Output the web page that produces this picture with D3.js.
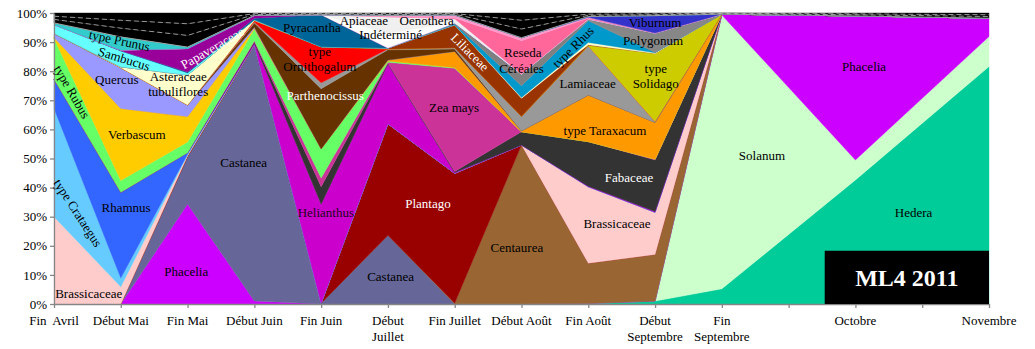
<!DOCTYPE html>
<html>
<head>
<meta charset="utf-8">
<script src="https://cdn.jsdelivr.net/npm/d3@7"></script>
<style>
body { margin: 0; background: #fff; }
text { font-family: "Liberation Serif", "Times New Roman", serif; }
</style>
</head>
<body>
<svg id="chart" width="1035" height="349"></svg>
<script>
// periods sampled, and the slot each one sits on along the x axis (15 slots, 2 unlabeled)
const periods = ["Fin Avril", "Début Mai", "Fin Mai", "Début Juin", "Fin Juin", "Début Juillet",
    "Fin Juillet", "Début Août", "Fin Août", "Début Septembre", "Fin Septembre", "Octobre", "Novembre"];
const periodSlots = [0, 1, 2, 3, 4, 5, 6, 7, 8, 9, 10, 12, 14];
const tickLabels = [["Fin  Avril"], ["Début Mai"], ["Fin Mai"], ["Début Juin"], ["Fin Juin"],
    ["Début", "Juillet"], ["Fin Juillet"], ["Début Août"], ["Fin Août"], ["Début", "Septembre"],
    ["Fin", "Septembre"], [""], ["Octobre"], [""], ["Novembre"]];
const yTicks = [0, 10, 20, 30, 40, 50, 60, 70, 80, 90, 100];

// pollen shares (%), bottom of the stack first
const hedera        = [0, 0, 0, 0, 0, 0, 0, 0, 0.2, 1, 5.2, 42.6, 81.6];
const solanum       = [0, 0, 0, 0, 0, 0, 0, 0, 0, 0, 94.1, 6.9, 10.3];
const phacelia      = [0, 0, 34.4, 1, 0, 0, 0, 0, 0, 0, 0.3, 49.5, 6.3];
const castanea      = [0, 0, 16.2, 87.5, 0.3, 23.7, 0, 0, 0, 0, 0, 0, 0];
const centaurea     = [0, 0, 0, 0, 0, 0, 0.3, 54.6, 13.8, 16, 0, 0, 0];
const plantago      = [0, 0, 0.3, 0.2, 0, 38.4, 44.6, 0, 0, 0, 0, 0, 0];
const brassicaceae  = [30, 5.9, 0.3, 0, 0, 0, 0, 0, 26.3, 14.5, 0, 0, 0];
const crataegus     = [37.2, 3, 0.3, 0, 0, 0, 0, 0, 0, 0, 0, 0, 0];
const rhamnus       = [10.1, 29.5, 0.5, 0, 0, 0, 0, 0, 0, 0, 0, 0, 0];
const helianthus    = [0, 0, 0, 0.5, 34, 20.6, 0.3, 0, 0.2, 0.3, 0, 0, 0];
const fabaceae      = [0, 0, 0, 0.5, 6, 0.3, 0.3, 4.6, 15.3, 17.7, 0, 0, 0];
const zeaMays       = [0, 0, 0, 0.3, 3, 0.3, 35.5, 0, 0, 0.3, 0, 0, 0];
const rubus         = [14, 4, 3.7, 4, 10, 0.5, 0.3, 0, 0, 0, 0, 0, 0];
const verbascum     = [0.3, 24.8, 8.7, 0.3, 0, 0, 0, 0, 0, 0, 0, 0, 0];
const taraxacum     = [0, 0, 0, 0, 0, 0.3, 5.5, 0.3, 16, 12.6, 0, 0, 0];
const quercus       = [1.4, 14, 4, 0.3, 0, 0, 0, 0, 0, 0, 0, 0, 0];
const parthenocissus = [0, 0, 0, 1.5, 20.7, 3.5, 0.8, 0, 0, 0, 0, 0, 0];
const lamiaceae     = [0, 0, 0, 0.3, 2, 0.3, 0.5, 5, 16.9, 0.3, 0, 0, 0];
const ornithogalum  = [0, 0, 0, 0.5, 12.4, 0, 0, 0, 0, 0, 0, 0, 0];
const solidago      = [0, 0, 0, 0, 0, 0, 0, 0, 0.2, 23.4, 0, 0, 0];
const liliaceae     = [0, 0, 0, 0, 0, 0.3, 7.8, 6.2, 0.2, 0, 0, 0, 0];
const asteraceae    = [0, 0.3, 10.3, 0.3, 0, 0, 0, 0.3, 0.8, 0.2, 0, 0, 0];
const rhus          = [0, 0, 0, 0, 0, 0, 0.3, 4, 7.4, 0.2, 0, 0, 0];
const cereales      = [0, 0, 0, 0, 0, 0, 0.3, 4, 0.3, 0, 0, 0, 0];
const polygonum     = [0, 0, 0, 0, 0, 0, 0, 0, 0.3, 6.6, 0, 0, 0];
const sambucus      = [3.0, 5.5, 0.7, 0, 0, 0, 0, 0, 0, 0, 0, 0, 0];
const pyracantha    = [0, 0, 0.3, 0.5, 11, 0, 0, 0, 0, 0, 0, 0, 0];
const papaveraceae  = [0, 0.3, 8.1, 1, 0, 0, 0, 0, 0, 0, 0, 0, 0];
const indetermine   = [0, 0, 0, 0, 0, 5.1, 0.3, 0, 0, 0, 0, 0, 0];
const apiaceae      = [0, 0, 0, 0, 0, 5.7, 1.2, 0, 0, 0, 0, 0, 0];
const reseda        = [0, 0, 0, 0, 0, 0, 0.3, 11.5, 0.3, 0, 0, 0, 0];
const oenothera     = [0, 0, 0, 0, 0, 0.5, 1, 1, 0.3, 0, 0, 0, 0];
const viburnum      = [0, 0, 0, 0, 0, 0, 0, 0, 0.3, 6, 0, 0, 0];
const prunus        = [0.6, 4.5, 0.5, 0, 0, 0, 0, 0, 0, 0, 0, 0, 0];
const autres1       = [1.2, 3, 4, 0.3, 0.2, 0.3, 0.3, 3, 0.4, 0.3, 0.2, 0.4, 0.6];
const autres2       = [1.1, 2.7, 4, 0.3, 0.2, 0.3, 0.2, 3, 0.4, 0.3, 0.1, 0.3, 0.6];
const autres3       = [1.1, 2.5, 3.7, 0.2, 0.2, 0.2, 0.2, 2.5, 0.4, 0.3, 0.1, 0.3, 0.6];

const series = [
    ["Hedera", hedera], ["Solanum", solanum], ["Phacelia", phacelia], ["Castanea", castanea],
    ["Centaurea", centaurea], ["Plantago", plantago], ["Brassicaceae", brassicaceae],
    ["type Crataegus", crataegus], ["Rhamnus", rhamnus], ["Helianthus", helianthus],
    ["Fabaceae", fabaceae], ["Zea mays", zeaMays], ["type Rubus", rubus], ["Verbascum", verbascum],
    ["type Taraxacum", taraxacum], ["Quercus", quercus], ["Parthenocissus", parthenocissus],
    ["Lamiaceae", lamiaceae], ["type Ornithogalum", ornithogalum], ["type Solidago", solidago],
    ["Liliaceae", liliaceae], ["Asteraceae tubuliflores", asteraceae], ["type Rhus", rhus],
    ["Céréales", cereales], ["Polygonum", polygonum], ["Sambucus", sambucus],
    ["Pyracantha", pyracantha], ["Papaveraceae", papaveraceae], ["Indéterminé", indetermine],
    ["Apiaceae", apiaceae], ["Reseda", reseda], ["Oenothera", oenothera], ["Viburnum", viburnum],
    ["type Prunus", prunus], ["Autres 1", autres1], ["Autres 2", autres2], ["Autres 3", autres3]
];

const colours = {
    "Hedera": "#00CC99", "Solanum": "#CCFFCC", "Phacelia": "#CC00FF", "Castanea": "#666699",
    "Centaurea": "#996633", "Plantago": "#990000", "Brassicaceae": "#FFCCCC",
    "type Crataegus": "#66CCFF", "Rhamnus": "#3366FF", "Helianthus": "#CC00CC",
    "Fabaceae": "#333333", "Zea mays": "#CC3399", "type Rubus": "#66FF66", "Verbascum": "#FFCC00",
    "type Taraxacum": "#FF9900", "Quercus": "#9999FF", "Parthenocissus": "#663300",
    "Lamiaceae": "#999999", "type Ornithogalum": "#FF0000", "type Solidago": "#CCCC00",
    "Liliaceae": "#993300", "Asteraceae tubuliflores": "#FFFFCC", "type Rhus": "#0099CC",
    "Céréales": "#808080", "Polygonum": "#878787", "Sambucus": "#66FFFF", "Pyracantha": "#006699",
    "Papaveraceae": "#990099", "Indéterminé": "#FFFFFF", "Apiaceae": "#F0F0F0", "Reseda": "#FF6699",
    "Oenothera": "#FF99CC", "Viburnum": "#3333CC", "type Prunus": "#33CCCC",
    "Autres 1": "#000000", "Autres 2": "#000000", "Autres 3": "#000000"
};

// in-chart labels: slot position, percentage height, rotation
const labels = [
    { t: ["type Prunus"], s: 0.98, p: 90.6, r: 12 },
    { t: ["Sambucus"], s: 1.05, p: 84.3, r: 17 },
    { t: ["Papaveraceae"], s: 2.37, p: 88, r: -30, c: "#fff" },
    { t: ["Quercus"], s: 0.94, p: 77 },
    { t: ["Asteraceae", "tubuliflores"], s: 1.86, p: 75.5 },
    { t: ["type Rubus"], s: 0.27, p: 72.9, r: 60 },
    { t: ["Verbascum"], s: 1.24, p: 58.1 },
    { t: ["type Crataegus"], s: 0.36, p: 31.3, r: 57 },
    { t: ["Rhamnus"], s: 1.08, p: 33.3 },
    { t: ["Brassicaceae"], s: 0.52, p: 3.8 },
    { t: ["Phacelia"], s: 1.98, p: 11.3 },
    { t: ["Castanea"], s: 2.84, p: 48.5 },
    { t: ["Pyracantha"], s: 3.86, p: 95.2 },
    { t: ["type", "Ornithogalum"], s: 3.98, p: 84.2 },
    { t: ["Apiaceae"], s: 4.64, p: 97.6 },
    { t: ["Indéterminé"], s: 5.04, p: 92.8 },
    { t: ["Oenothera"], s: 5.58, p: 97.3 },
    { t: ["Liliaceae"], s: 6.23, p: 86.6, r: 45, c: "#fff" },
    { t: ["Parthenocissus"], s: 4.06, p: 71.8, c: "#fff" },
    { t: ["Zea mays"], s: 5.99, p: 67.4 },
    { t: ["Helianthus"], s: 4.07, p: 31.6, c: "#220022" },
    { t: ["Plantago"], s: 5.6, p: 34.7, c: "#fff" },
    { t: ["Castanea"], s: 5.04, p: 9.6 },
    { t: ["Centaurea"], s: 6.93, p: 19.6 },
    { t: ["Reseda"], s: 7.02, p: 86.6 },
    { t: ["Céréales"], s: 7.0, p: 81.1 },
    { t: ["type Rhus"], s: 7.77, p: 88.3, r: -45 },
    { t: ["Lamiaceae"], s: 7.99, p: 75.9 },
    { t: ["type Taraxacum"], s: 8.25, p: 59.8 },
    { t: ["Fabaceae"], s: 8.61, p: 43.6, c: "#fff" },
    { t: ["Brassicaceae"], s: 8.43, p: 27.8 },
    { t: ["Viburnum"], s: 9.0, p: 96.6 },
    { t: ["Polygonum"], s: 8.97, p: 90.7 },
    { t: ["type", "Solidago"], s: 9.01, p: 78.5 },
    { t: ["Solanum"], s: 10.6, p: 50.9 },
    { t: ["Phacelia"], s: 12.13, p: 81.8 },
    { t: ["Hedera"], s: 12.87, p: 31.3 }
];

const margin = { left: 54, right: 46, top: 13, bottom: 45 };
const width = 1035, height = 349;
const fontSize = 13;

const svg = d3.select("#chart");

const x = d3.scaleLinear()
    .domain([0, tickLabels.length - 1])
    .range([margin.left, width - margin.right]);
const y = d3.scaleLinear()
    .domain([0, 1])
    .range([height - margin.bottom, margin.top]);

const keys = series.map(s => s[0]);
const rows = periodSlots.map((slot, i) => {
    const row = { slot: slot, period: periods[i] };
    series.forEach(s => { row[s[0]] = s[1][i]; });
    return row;
});

const stacked = d3.stack()
    .keys(keys)
    .offset(d3.stackOffsetExpand)(rows);

const area = d3.area()
    .x(d => x(d.data.slot))
    .y0(d => y(d[0]))
    .y1(d => y(d[1]));

svg.append("g")
    .selectAll("path")
    .data(stacked)
    .enter()
    .append("path")
        .attr("d", area)
        .attr("fill", d => colours[d.key])
        .attr("stroke", d => colours[d.key])
        .attr("stroke-width", 0.4);

// light dashed separators inside the black "other" band
const topLine = d3.line()
    .x(d => x(d.data.slot))
    .y(d => y(d[1]));
svg.append("g")
    .selectAll("path")
    .data(stacked.filter(d => d.key === "type Prunus" || d.key === "Autres 1" || d.key === "Autres 2"))
    .enter()
    .append("path")
        .attr("d", topLine)
        .attr("fill", "none")
        .attr("stroke", "#d0d0d0")
        .attr("stroke-width", 0.7)
        .attr("stroke-dasharray", (d, i) => i === 0 ? null : "5,3");

// axes
const yAxis = d3.axisLeft(y)
    .tickValues(yTicks.map(v => v / 100))
    .tickFormat(v => Math.round(v * 100) + "%")
    .tickSize(4)
    .tickSizeOuter(0);
const gy = svg.append("g")
    .attr("transform", `translate(${ margin.left }, 0)`)
    .call(yAxis);
gy.selectAll("text").attr("font-size", fontSize).attr("fill", "#000")
    .style("font-family", '"Liberation Serif", serif').attr("x", -7);

const xAxis = d3.axisBottom(x)
    .tickValues(d3.range(tickLabels.length))
    .tickFormat("")
    .tickSize(4)
    .tickSizeOuter(0);
const gx = svg.append("g")
    .attr("transform", `translate(0, ${ height - margin.bottom })`)
    .call(xAxis);

[gx, gy].forEach(g => {
    g.select(".domain").attr("stroke", "#868686").attr("stroke-width", 1.3);
    g.selectAll(".tick line").attr("stroke", "#868686").attr("stroke-width", 1.3);
});

const xl = svg.append("g");
tickLabels.forEach((lines, i) => {
    const t = xl.append("text")
        .attr("x", x(i))
        .attr("y", height - margin.bottom + 21)
        .attr("text-anchor", "middle")
        .attr("font-size", fontSize)
        .style("white-space", "pre")
        .attr("xml:space", "preserve");
    lines.forEach((line, j) => {
        t.append("tspan")
            .attr("x", x(i))
            .attr("dy", j === 0 ? 0 : 16)
            .text(line);
    });
});

// in-chart labels
const lg = svg.append("g");
labels.forEach(l => {
    const cx = x(l.s), cy = y(l.p / 100);
    const t = lg.append("text")
        .attr("transform", `translate(${ cx }, ${ cy }) rotate(${ l.r || 0 })`)
        .attr("text-anchor", "middle")
        .attr("font-size", fontSize)
        .attr("fill", l.c || "#000");
    const n = l.t.length;
    l.t.forEach((line, j) => {
        t.append("tspan")
            .attr("x", 0)
            .attr("y", (j - (n - 1) / 2) * 15)
            .attr("dy", "0.35em")
            .text(line);
    });
});

// title box
const boxX0 = x(11.54), boxX1 = x(14);
svg.append("rect")
    .attr("x", boxX0)
    .attr("y", y(0.183))
    .attr("width", boxX1 - boxX0)
    .attr("height", y(0) - y(0.183))
    .attr("fill", "#000");
svg.append("text")
    .attr("x", (boxX0 + boxX1) / 2)
    .attr("y", (y(0.183) + y(0)) / 2)
    .attr("dy", "0.35em")
    .attr("text-anchor", "middle")
    .attr("font-size", 24)
    .attr("font-weight", "bold")
    .attr("fill", "#fff")
    .text("ML4 2011");
</script>
</body>
</html>
